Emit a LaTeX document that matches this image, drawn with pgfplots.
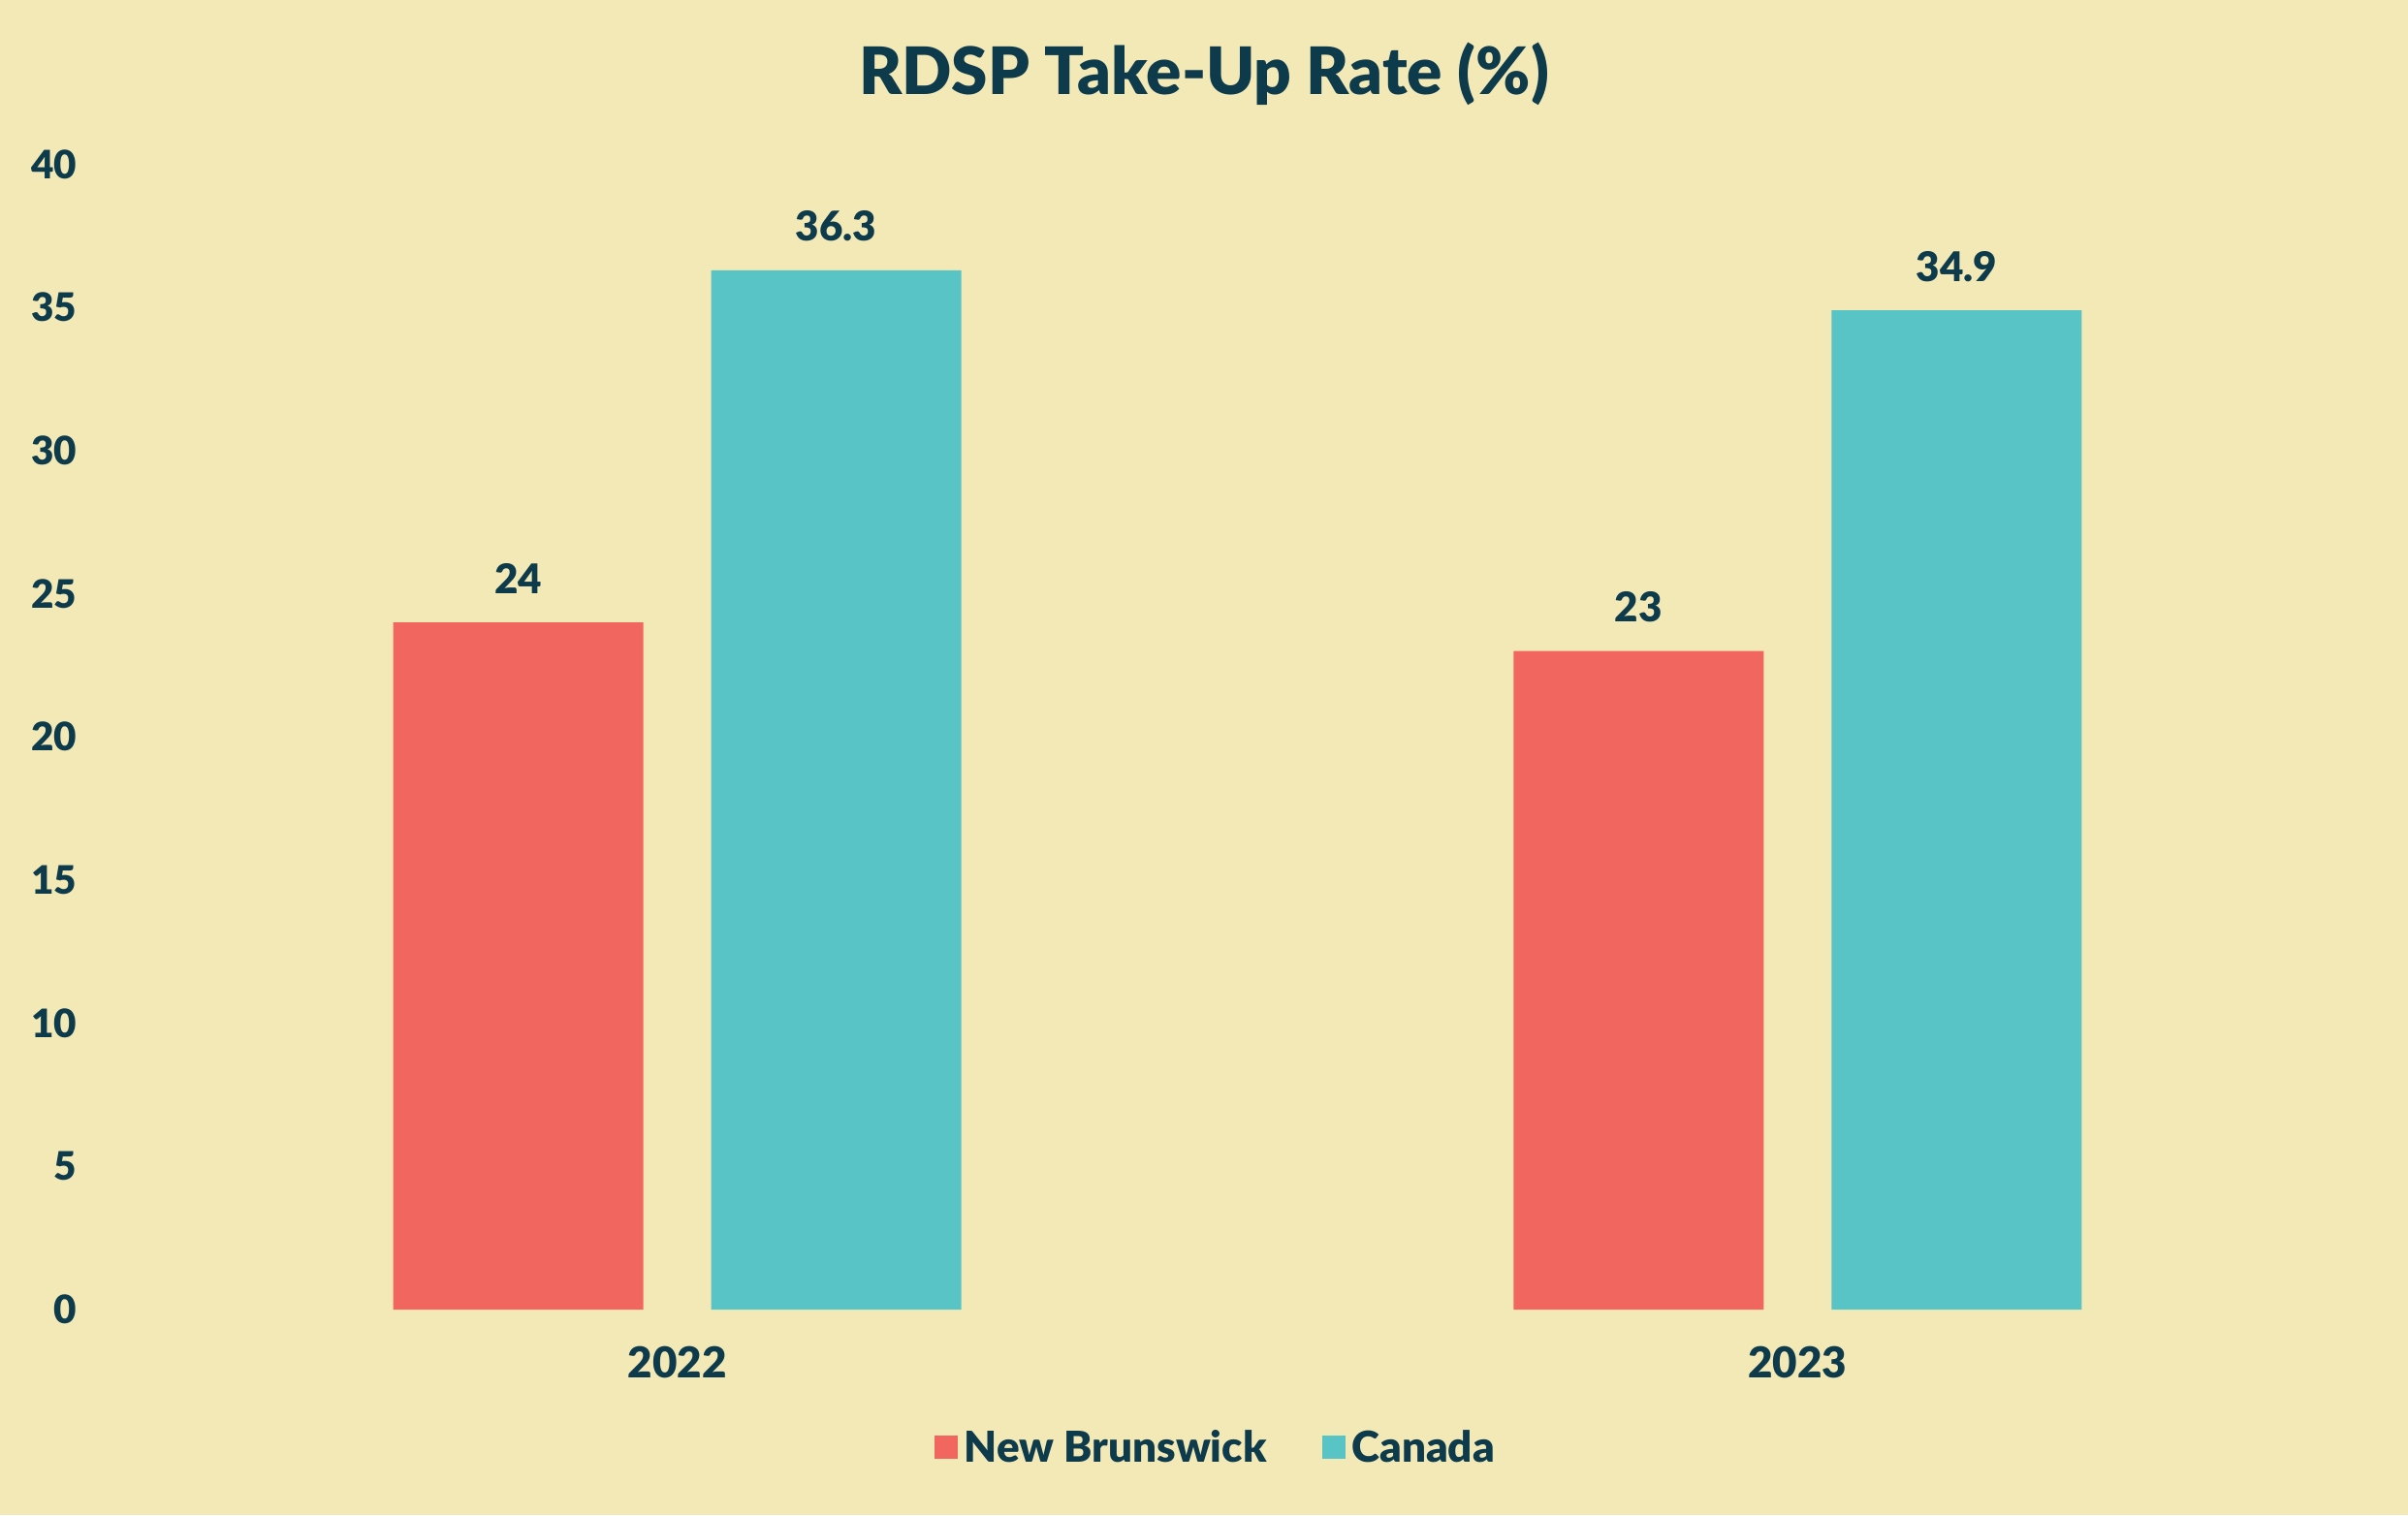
\documentclass[border=0pt]{standalone}
\usepackage{fontspec}
\setmainfont{Lato}[BoldFont={Lato Black}]
\usepackage{pgfplots}
\pgfplotsset{compat=1.18}

\definecolor{bgc}{HTML}{F3E9B7}
\definecolor{nbred}{HTML}{F26660}
\definecolor{canteal}{HTML}{58C4C5}
\definecolor{ink}{HTML}{0E3B4B}

\begin{document}
\begin{tikzpicture}
  \fill[bgc] (0,0) rectangle (248.4mm,156.3mm);
  \useasboundingbox (0,0) rectangle (248.4mm,156.3mm);
  \begin{axis}[
      at={(8.6mm,21.2mm)}, anchor=south west,
      scale only axis,
      width=238.1mm, height=118.15mm,
      ybar=7mm,
      bar width=25.8mm,
      xmin=-0.53, xmax=1.53,
      ymin=0, ymax=40,
      xtick={0,1},
      xticklabels={2022,2023},
      ytick={0,5,...,40},
      axis line style={draw=none},
      major tick length=0pt,
      /pgf/number format/assume math mode=true,
      every tick label/.append style={font=\bfseries\fontsize{11.5}{13}\selectfont, text=ink, inner sep=0pt},
      yticklabel style={anchor=east},
      xticklabel style={anchor=north, font=\bfseries\fontsize{12.5}{14}\selectfont},
      y tick label style={xshift=-0.6mm},
      x tick label style={yshift=-3.7mm},
      nodes near coords,
      nodes near coords style={font=\bfseries\fontsize{12}{14}\selectfont, text=ink, anchor=south, inner sep=0pt, yshift=2.9mm},
      title={RDSP Take-Up Rate (\%)},
      title style={font=\bfseries\fontsize{19.2}{22}\selectfont, text=ink, at={(0.4855,1)}, anchor=center, yshift=7.25mm},
      legend columns=2,
      legend style={draw=none, fill=none, at={(0.4915,-0.1219)}, anchor=center,
        font=\bfseries\fontsize{12.5}{14}\selectfont, text=ink,
        /tikz/every even column/.append style={column sep=5mm}},
      legend image code/.code={\fill[#1] (0mm,-1.0mm) rectangle (2.4mm,1.4mm);},
    ]
    \addplot[fill=nbred, draw=none] coordinates {(0,24) (1,23)};
    \addplot[fill=canteal, draw=none] coordinates {(0,36.3) (1,34.9)};
    \legend{New Brunswick, Canada}
  \end{axis}
\end{tikzpicture}
\end{document}
